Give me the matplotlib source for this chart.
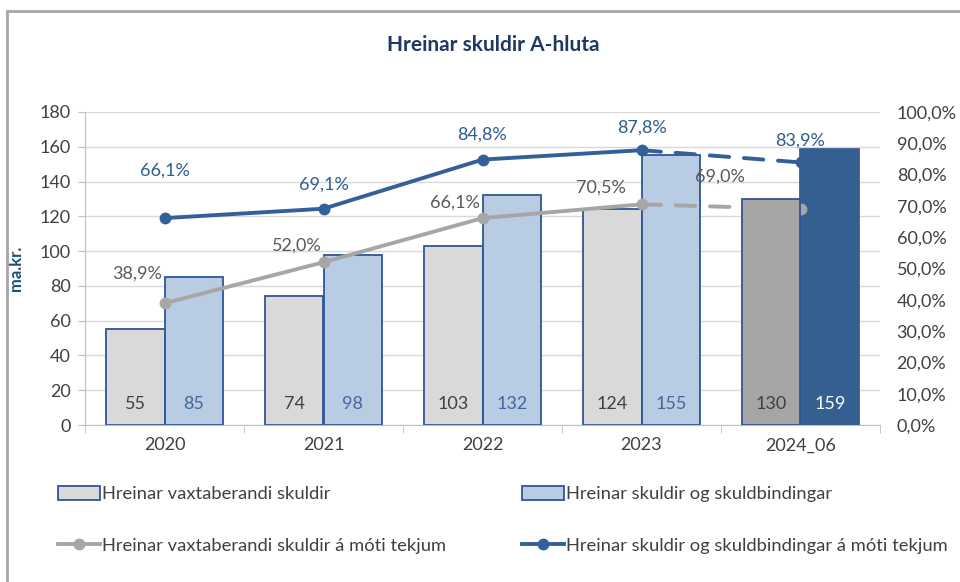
import numpy as np
import matplotlib.pyplot as plt
from matplotlib.patches import Rectangle, Patch
from matplotlib.lines import Line2D

plt.rcParams['font.family'] = ['Lato', 'DejaVu Sans']

years = ["2020", "2021", "2022", "2023", "2024_06"]
vaxtaber = [55, 74, 103, 124, 130]
skuldir = [85, 98, 132, 155, 159]
vaxtaber_pct = [38.9, 52.0, 66.1, 70.5, 69.0]
skuldir_pct = [66.1, 69.1, 84.8, 87.8, 83.9]

lbl_vaxtaber = "Hreinar vaxtaberandi skuldir"
lbl_skuldir = "Hreinar skuldir og skuldbindingar"
lbl_vaxtaber_pct = "Hreinar vaxtaberandi skuldir á móti tekjum"
lbl_skuldir_pct = "Hreinar skuldir og skuldbindingar á móti tekjum"

BLUE_EDGE = "#2F5597"
LIGHT_GRAY = "#D9D9D9"
LIGHT_BLUE = "#B8CCE4"
DARK_GRAY = "#A5A5A5"
DARK_BLUE = "#365F91"
LINE_BLUE = "#34609A"
LINE_GRAY = "#A6A6A6"
TXT = "#404040"
FS = 13

scale = 180 / 100  # right axis 100% matches left axis 180

fig = plt.figure(figsize=(9.6, 5.82), dpi=100)
ax = fig.add_axes([85/960, 1-425/582, 795/960, 313/582])

x = np.arange(len(years))
w = 0.37
n = len(years)

# earlier periods
ax.bar(x[:-1] - w/2, vaxtaber[:-1], w, color=LIGHT_GRAY, edgecolor=BLUE_EDGE, linewidth=1.3, zorder=2)
ax.bar(x[:-1] + w/2, skuldir[:-1], w, color=LIGHT_BLUE, edgecolor=BLUE_EDGE, linewidth=1.3, zorder=2)
# last period, drawn in front of the ratio lines
ax.bar(x[-1:] - w/2, vaxtaber[-1:], w, color=DARK_GRAY, edgecolor=BLUE_EDGE, linewidth=1.3, zorder=5)
ax.bar(x[-1:] + w/2, skuldir[-1:], w, color=DARK_BLUE, edgecolor=DARK_BLUE, linewidth=1.3, zorder=3)

for i in range(n):
    ax.text(x[i] - w/2, 12, str(vaxtaber[i]), ha='center', va='center', fontsize=FS, color=TXT, zorder=6)
    col = "#44679A" if i < n-1 else "white"
    ax.text(x[i] + w/2, 12, str(skuldir[i]), ha='center', va='center', fontsize=FS, color=col, zorder=6)

# ratio lines, drawn in left-axis units through the scale
yv = np.array(vaxtaber_pct) * scale
ys = np.array(skuldir_pct) * scale
for y, c, z in [(yv, LINE_GRAY, 4), (ys, LINE_BLUE, 2.5)]:
    ax.plot(x[:-1], y[:-1], color=c, lw=2.8, marker='o', ms=7.5, zorder=z, solid_capstyle='round')
    ax.plot(x[-2:], y[-2:], color=c, lw=2.8, ls=(0, (5, 3.8)), marker='o', ms=7.5, zorder=z,
            markevery=[1], dash_capstyle='round')

def pct(v):
    return f"{v:.1f}%".replace('.', ',')

blue_off = [(0, 34), (0, 17), (0, 18), (0, 16), (0, 16)]
gray_off = [(-20, 21), (-19, 12), (-20, 11), (-29, 12), (-58, 23)]
for i in range(n):
    ax.annotate(pct(skuldir_pct[i]), (x[i], ys[i]), xytext=blue_off[i], textcoords='offset points',
                ha='center', va='center', fontsize=FS, color="#2F5C8F", zorder=6)
    ax.annotate(pct(vaxtaber_pct[i]), (x[i], yv[i]), xytext=gray_off[i], textcoords='offset points',
                ha='center', va='center', fontsize=FS, color="#595959", zorder=6)

ax.set_xlim(-0.5, n - 0.5)
ax.set_ylim(0, 180)
ax.set_yticks(np.arange(0, 181, 20))
ax.set_xticks(x)
ax.set_xticklabels(years)
ax.set_xticks(np.arange(-0.5, n, 1), minor=True)
ax.tick_params(axis='x', which='major', length=0, labelsize=FS, labelcolor=TXT, pad=9)
ax.tick_params(axis='x', which='minor', length=6, color="#BFBFBF")
ax.tick_params(axis='y', length=5, color="#BFBFBF", labelsize=FS, labelcolor=TXT, pad=5)
ax.grid(axis='y', color="#D9D9D9", lw=1, zorder=0)
ax.set_axisbelow(True)
for s in ['top', 'right']:
    ax.spines[s].set_visible(False)
ax.spines['left'].set_color("#BFBFBF")
ax.spines['bottom'].set_color("#BFBFBF")

sec = ax.secondary_yaxis('right', functions=(lambda v: v / scale, lambda p: p * scale))
sec.set_yticks(np.arange(0, 101, 10))
sec.set_yticklabels([pct(v) for v in np.arange(0, 101, 10)])
sec.spines['right'].set_visible(False)
sec.tick_params(length=0, labelsize=FS, labelcolor=TXT, pad=12)

ax.set_ylabel("ma.kr.", fontsize=12, fontweight='bold', color="#1F4E79")
ax.yaxis.set_label_coords(-0.077, 0.5)

fig.text(493/960, 1-45/582, "Hreinar skuldir A-hluta", ha='center', va='center',
         fontsize=15, fontweight='bold', color="#1F3864")

# chart frame
fig.patches.append(Rectangle((7/960, -0.1), 1.2, 1 - 11/582 + 0.1, transform=fig.transFigure,
                             fill=False, edgecolor="#A6A6A6", lw=2))

h1 = Patch(facecolor=LIGHT_GRAY, edgecolor=BLUE_EDGE, lw=1.3)
h2 = Patch(facecolor=LIGHT_BLUE, edgecolor=BLUE_EDGE, lw=1.3)
h3 = Line2D([], [], color=LINE_GRAY, lw=2.8, marker='o', ms=7.5)
h4 = Line2D([], [], color=LINE_BLUE, lw=2.8, marker='o', ms=7.5)
kw = dict(loc='upper left', frameon=False, fontsize=13.2, handlelength=2.3, handleheight=0.8,
          handletextpad=0.12, labelspacing=1.9, borderaxespad=0, borderpad=0, labelcolor=TXT)
fig.legend([h1, h3], [lbl_vaxtaber, lbl_vaxtaber_pct], bbox_to_anchor=(58/960, 1-486/582), **kw)
fig.legend([h2, h4], [lbl_skuldir, lbl_skuldir_pct], bbox_to_anchor=(522/960, 1-486/582), **kw)

fig.savefig("out.png", dpi=100)
